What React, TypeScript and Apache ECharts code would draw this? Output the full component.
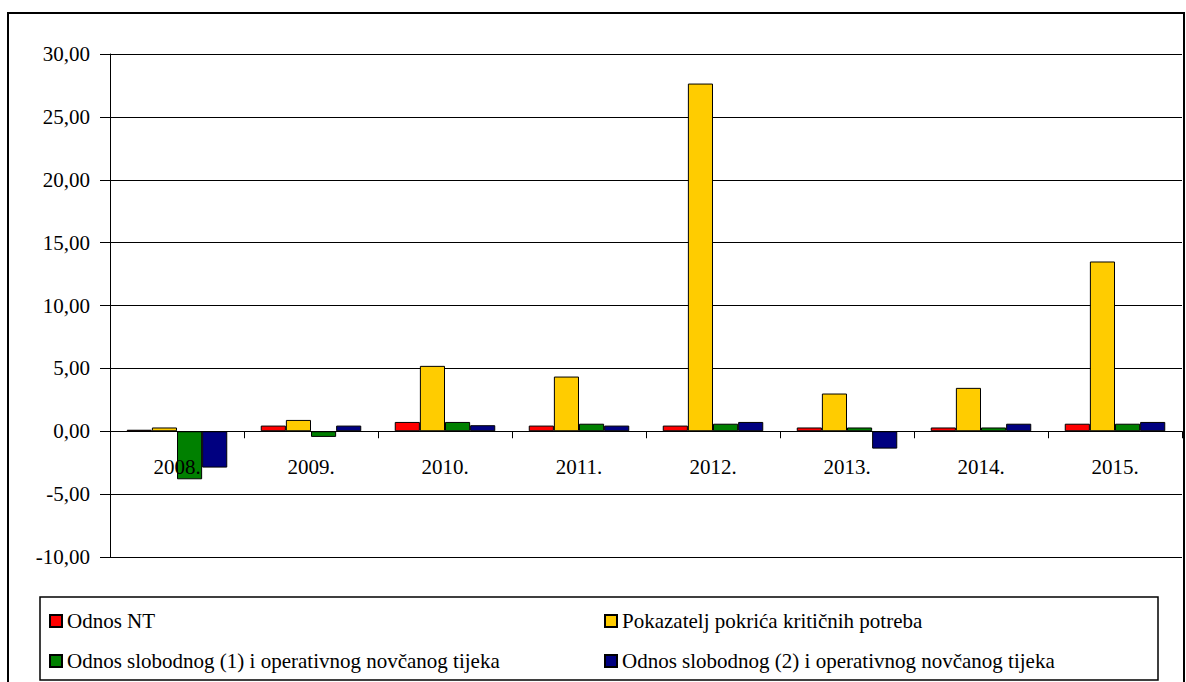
import React, { useEffect, useRef } from "react";
import * as echarts from "echarts";

const categories = ["2008.", "2009.", "2010.", "2011.", "2012.", "2013.", "2014.", "2015."];
const seriesNames = [
  "Odnos NT",
  "Pokazatelj pokrića kritičnih potreba",
  "Odnos slobodnog (1) i operativnog novčanog tijeka",
  "Odnos slobodnog (2) i operativnog novčanog tijeka",
];
const odnosNT = [0.12, 0.45, 0.74, 0.45, 0.45, 0.3, 0.3, 0.6];
const pokazatelj = [0.3, 0.9, 5.2, 4.35, 27.65, 3.0, 3.45, 13.5];
const slobodni1 = [-3.82, -0.45, 0.74, 0.6, 0.6, 0.3, 0.3, 0.6];
const slobodni2 = [-2.89, 0.45, 0.48, 0.45, 0.74, -1.38, 0.6, 0.74];
const seriesColors = ["#FF0000", "#FFCC00", "#008000", "#000080"];
const yTicks = { min: -10, max: 30, interval: 5 };

const FONT = "Liberation Serif";

export default function App() {
  const ref = useRef<HTMLDivElement>(null);
  useEffect(() => {
    if (!ref.current) return;
    const chart = echarts.init(ref.current, null, { renderer: "svg" });
    const values = [odnosNT, pokazatelj, slobodni1, slobodni2];
    const legendPos = [
      { left: 49, top: 610.5 },
      { left: 604, top: 610.5 },
      { left: 49, top: 650.5 },
      { left: 604, top: 650.5 },
    ];
    chart.setOption({
      animation: false,
      textStyle: { fontFamily: FONT },
      grid: { left: 110, top: 54, right: 4, bottom: 125, containLabel: false },
      xAxis: [
        {
          type: "category",
          data: categories,
          boundaryGap: true,
          axisLine: { onZero: true, lineStyle: { color: "#000", width: 1 } },
          axisTick: { show: true, length: 7, lineStyle: { color: "#000" } },
          axisLabel: { show: false },
          splitLine: { show: false },
          z: 10,
        },
        {
          type: "category",
          data: categories,
          position: "bottom",
          offset: -125,
          boundaryGap: true,
          axisLine: { show: false, onZero: false },
          axisTick: { show: false },
          axisLabel: { fontFamily: FONT, fontSize: 21, color: "#000", margin: 24 },
          splitLine: { show: false },
          z: 10,
        },
      ],
      yAxis: {
        type: "value",
        min: yTicks.min,
        max: yTicks.max,
        interval: yTicks.interval,
        axisLine: { show: true, lineStyle: { color: "#000", width: 1 } },
        axisTick: { show: true, length: 10, lineStyle: { color: "#000" } },
        axisLabel: {
          fontFamily: FONT,
          fontSize: 21,
          color: "#000",
          margin: 20,
          formatter: (v: number) => v.toFixed(2).replace(".", ","),
        },
        splitLine: { show: true, lineStyle: { color: "#000", width: 1 } },
      },
      legend: seriesNames.map((n, i) => ({
        data: [n],
        left: legendPos[i].left,
        top: legendPos[i].top,
        padding: 0,
        itemWidth: 12,
        itemHeight: 12,
        icon: "rect",
        itemGap: 0,
        selectedMode: false,
        textStyle: { fontFamily: FONT, fontSize: 21, color: "#000" },
      })),
      series: seriesNames.map((n, i) => ({
        name: n,
        type: "bar",
        data: values[i],
        xAxisIndex: 0,
        barGap: "0%",
        barCategoryGap: "25%",
        itemStyle: { color: seriesColors[i], borderColor: "#000", borderWidth: 1 },
      })),
      graphic: [
        {
          type: "rect",
          shape: { x: 8, y: 13, width: 1176, height: 720 },
          style: { fill: "none", stroke: "#000", lineWidth: 2 },
          silent: true,
        },
        {
          type: "rect",
          shape: { x: 40, y: 597, width: 1118, height: 83 },
          style: { fill: "none", stroke: "#000", lineWidth: 1.5 },
          silent: true,
        },
      ],
    });
    return () => chart.dispose();
  }, []);
  return (
    <div
      ref={ref}
      style={{ position: "absolute", left: 0, top: 0, width: 1186, height: 682, background: "#fff", fontFamily: "Liberation Serif" }}
    />
  );
}
